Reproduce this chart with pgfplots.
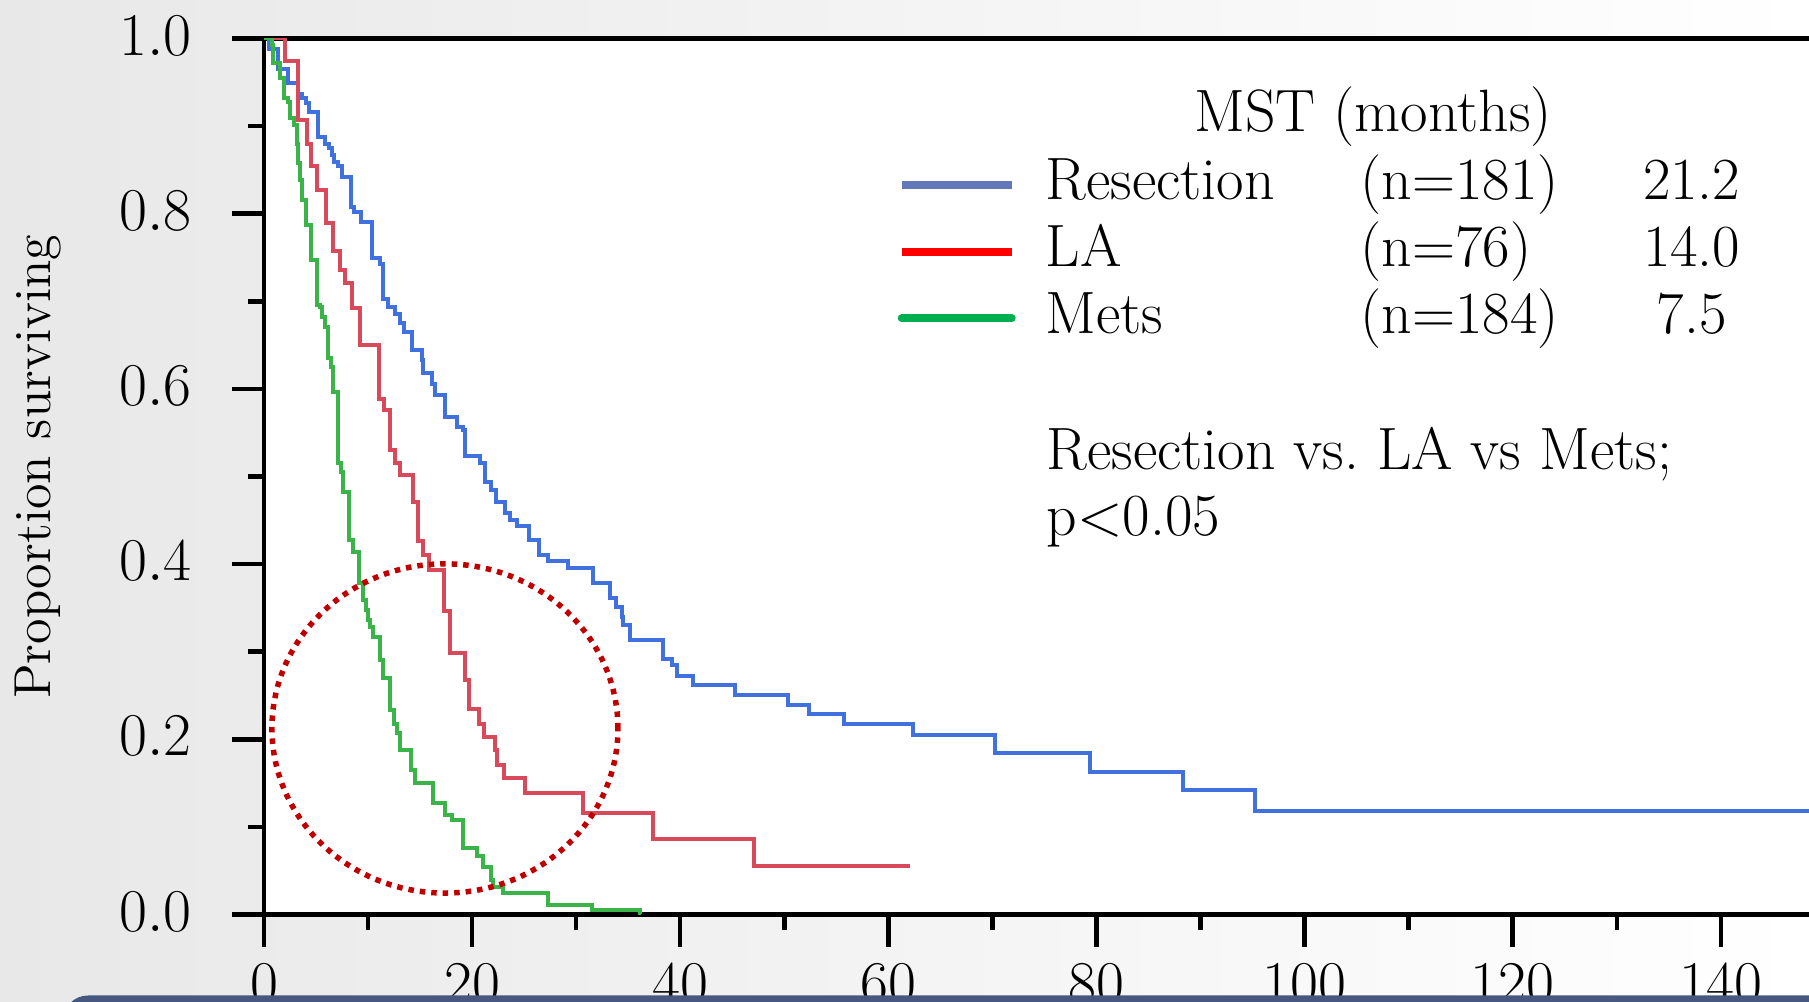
\documentclass[border=0pt]{standalone}
\usepackage{fontspec}
\usepackage{pgfplots}
\pgfplotsset{compat=1.18}
\definecolor{kmblue}{RGB}{65,113,223}
\definecolor{kmred}{RGB}{216,74,90}
\definecolor{kmgreen}{RGB}{58,179,72}
\definecolor{legblue}{RGB}{99,120,184}
\definecolor{legred}{RGB}{255,0,0}
\definecolor{leggreen}{RGB}{0,176,80}
\definecolor{circlecol}{RGB}{192,0,0}
\definecolor{bgl}{RGB}{232,232,232}
\definecolor{barcol}{RGB}{70,88,128}

\pgfplotstableread{
x y
0 1
0.48 0.988
1.38 0.965
2.34 0.949
3.23 0.937
3.62 0.932
4.0 0.926
4.32 0.916
5.22 0.888
5.86 0.880
6.25 0.875
6.5 0.867
6.76 0.859
7.14 0.854
7.53 0.842
8.36 0.808
8.68 0.802
9.32 0.791
10.35 0.749
11.15 0.743
11.47 0.703
11.95 0.694
12.59 0.686
13.1 0.675
13.5 0.665
14.19 0.644
15.15 0.633
15.31 0.618
16.11 0.606
16.43 0.593
17.39 0.568
18.52 0.557
19.15 0.553
19.32 0.523
20.76 0.515
21.24 0.494
21.84 0.485
22.29 0.471
23.16 0.458
23.64 0.450
24.28 0.443
25.50 0.4275
26.46 0.410
27.32 0.403
29.25 0.395
31.65 0.378
33.25 0.361
33.8 0.351
34.4 0.340
34.53 0.330
35.17 0.313
38.37 0.292
39.18 0.285
39.66 0.272
41.2 0.262
45.26 0.2506
50.39 0.239
52.37 0.2285
55.74 0.2175
62.34 0.205
70.25 0.184
79.38 0.163
88.27 0.142
95.25 0.118
150 0.118
}\resection

\pgfplotstableread{
x y
0 1
2.05 0.974
3.25 0.907
4.15 0.880
4.55 0.854
5.1 0.827
5.95 0.789
6.6 0.757
7.35 0.736
7.75 0.7205
8.45 0.692
9.18 0.650
11.08 0.589
11.58 0.576
12.15 0.530
12.62 0.515
13.1 0.502
14.3 0.471
14.8 0.426
15.25 0.410
15.82 0.393
17.32 0.346
17.92 0.298
19.27 0.268
19.7 0.235
20.7 0.218
21.1 0.203
22.2 0.188
22.38 0.171
23.02 0.1555
25.1 0.139
30.68 0.1162
37.4 0.0858
47.1 0.0557
62.08 0.0557
}\la

\pgfplotstableread{
x y
0 1
0.74 0.9926
0.9 0.972
1.54 0.955
1.95 0.932
2.34 0.928
2.5 0.909
2.91 0.901
3.2 0.880
3.3 0.8576
3.46 0.838
3.62 0.816
4.0 0.787
4.5 0.747
5.1 0.696
5.4 0.694
5.54 0.682
5.86 0.671
6.12 0.635
6.44 0.625
6.66 0.597
7.08 0.515
7.40 0.5055
7.62 0.4826
8.2 0.4275
8.59 0.414
9.16 0.378
9.55 0.359
9.8 0.3476
10.03 0.336
10.19 0.3286
10.5 0.317
11.15 0.2905
11.47 0.2696
12.11 0.2334
12.52 0.218
12.75 0.207
13.07 0.188
14.13 0.165
14.51 0.1498
16.27 0.1276
17.39 0.1136
18.03 0.108
19.15 0.0756
20.44 0.0668
21.0 0.0546
21.78 0.039
22.04 0.0317
23.0 0.0242
27.32 0.0108
31.49 0.005
36.13 0.0
36.2 0.0
}\mets

\begin{document}
\begin{tikzpicture}
\path[use as bounding box] (-2.64,-0.875) rectangle (15.45,9.145);
\shade[left color=bgl, right color=white] (-2.64,-0.875) rectangle (15.45,9.145);
\begin{axis}[
  scale only axis,
  width=15.609cm, height=8.76cm,
  xmin=0, xmax=150, ymin=0, ymax=1,
  axis background/.style={fill=white},
  axis line style={line width=0.045cm, black},
  tick align=outside,
  tick pos=left,
  every tick/.style={line width=0.045cm, black},
  major tick length=0.32cm,
  minor tick length=0.16cm,
  xtick={0,20,40,60,80,100,120,140},
  minor xtick={10,30,50,70,90,110,130},
  ytick={0,0.2,0.4,0.6,0.8,1},
  minor ytick={0.1,0.3,0.5,0.7,0.9},
  yticklabel={\pgfmathprintnumber[fixed,fixed zerofill,precision=1]{\tick}},
  tick label style={font=\fontsize{17}{20}\selectfont},
  yticklabel style={xshift=-0.28cm, yshift=0.03cm},
  xticklabel style={yshift=-0.05cm},
  ylabel={Proportion surviving},
  ylabel style={at={(axis description cs:-0.1448,0.511)}, anchor=center, font=\fontsize{14.8}{17}\selectfont},
  legend style={draw=none, fill=none, inner sep=0pt, outer sep=0pt,
    at={(axis description cs:0.406,0.7568)}, anchor=west,
    cells={anchor=west},
    nodes={inner sep=0pt, text height=0.45cm, text depth=0.15cm},
    column sep=0.30cm, row sep=0.069cm,
    font=\fontsize{17}{20}\selectfont},
  legend image code/.code={\draw[#1] (0cm,0cm) -- (1.1cm,0cm);},
]
\addplot[const plot, color=kmblue, line width=0.04cm, forget plot] table[x=x,y=y] {\resection};
\addplot[const plot, color=kmred, line width=0.04cm, forget plot] table[x=x,y=y] {\la};
\addplot[const plot, color=kmgreen, line width=0.04cm, forget plot] table[x=x,y=y] {\mets};

\addlegendimage{color=legblue, line width=0.08cm}
\addlegendentry{\makebox[3.15cm][l]{Resection}\makebox[2.81cm][l]{(n=181)}\makebox[1.0cm][c]{21.2}}
\addlegendimage{color=legred, line width=0.08cm}
\addlegendentry{\makebox[3.15cm][l]{LA}\makebox[2.81cm][l]{(n=76)}\makebox[1.0cm][c]{14.0}}
\addlegendimage{color=leggreen, line width=0.08cm, line cap=round}
\addlegendentry{\makebox[3.15cm][l]{Mets}\makebox[2.81cm][l]{(n=184)}\makebox[1.0cm][c]{7.5}}

\node[anchor=base, font=\fontsize{17}{20}\selectfont] at (axis cs:106.57,0.894) {MST (months)};
\node[anchor=base west, inner sep=0pt, font=\fontsize{17}{20}\selectfont] at (axis cs:75.15,0.508) {Resection vs.\ LA vs Mets;};
\node[anchor=base west, inner sep=0pt, font=\fontsize{17}{20}\selectfont] at (axis cs:75.15,0.433) {p<0.05};

\draw[circlecol, line width=0.055cm, dash pattern=on 0.055cm off 0.06cm] (axis cs:17.39,0.2124) ellipse [x radius=1.73cm, y radius=1.646cm];
\end{axis}
\fill[barcol, rounded corners=0.25cm] (-2.01,-0.81) rectangle (16,-1.4);
\end{tikzpicture}
\end{document}
